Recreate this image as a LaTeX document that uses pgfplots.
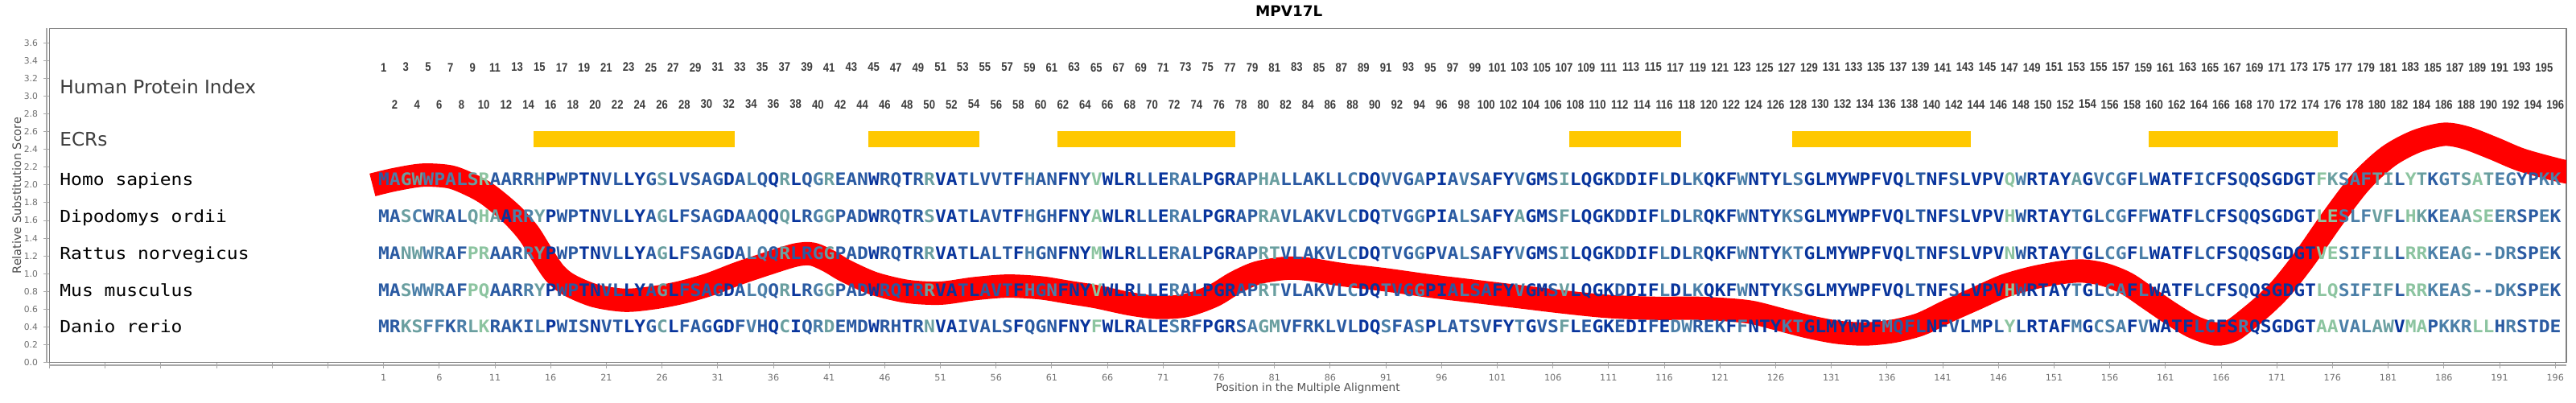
\documentclass[border=0pt]{standalone}
\usepackage{pgfplots}
\pgfplotsset{compat=1.18}
\usepackage{graphicx}
\usepackage{fontspec}
\setmainfont{DejaVu Sans}
\newfontfamily\monof{DejaVu Sans Mono}
\newfontfamily\idxf[FakeStretch=0.85]{Liberation Sans}
\definecolor{ca}{HTML}{08349C}
\definecolor{cb}{HTML}{2A5AA2}
\definecolor{cc}{HTML}{4B7FA8}
\definecolor{cd}{HTML}{6A9FA0}
\definecolor{ce}{HTML}{8CC4A0}
\definecolor{ecr}{HTML}{FFC800}
\definecolor{framec}{HTML}{808080}
\definecolor{axc}{HTML}{A8A8A8}
\definecolor{tlab}{HTML}{707070}
\definecolor{labc}{HTML}{505050}
\definecolor{idxc}{HTML}{3C3C3C}
\makeatletter
\def\walk#1#2\relax#3#4\relax{\textcolor{c#3}{#1}\ifx\relax#2\relax\expandafter\@gobble\else\expandafter\@firstofone\fi{\walk#2\relax#4\relax}}
\makeatother
\newcommand\seqline[2]{\scalebox{1}[0.93]{\monof\bfseries\fontsize{11.493}{12}\selectfont\walk#1\relax#2\relax}}
\newcommand\spname[1]{\scalebox{1}[0.9]{\monof\fontsize{11.493}{12}\selectfont #1}}
\begin{document}
\begin{tikzpicture}[idx/.style={font=\idxf\bfseries\fontsize{7.7}{8}\selectfont, text=idxc, inner sep=0pt, anchor=center},
  lab/.style={anchor=base west, inner sep=0pt}]
\begin{axis}[name=ax, at={(30.75pt,24.75pt)}, anchor=south west, scale only axis,
  width=1563.75pt, height=207.5pt,
  xmin=-29, xmax=197, ymin=0, ymax=3.762,
  axis line style={draw=framec, line width=0.65pt},
  tick pos=left, tick align=outside, major tick length=3.75pt,
  tick style={draw=axc, line width=0.5pt},
  xtick={1,6,...,196},
  extra x ticks={-29,-24,-19,-14,-9,-4}, extra x tick labels={},
  ytick={0,0.2,0.4,0.6,0.8,1.0,1.2,1.4,1.6,1.8,2.0,2.2,2.4,2.6,2.8,3.0,3.2,3.4,3.6},
  /pgf/number format/assume math mode=true,
  xticklabel style={font=\fontsize{5.6}{6}\selectfont, text=tlab},
  yticklabel style={font=\fontsize{5.4}{6}\selectfont, text=tlab, /pgf/number format/fixed, /pgf/number format/fixed zerofill, /pgf/number format/precision=1},
  xlabel={Position in the Multiple Alignment},
  xlabel style={font=\fontsize{6.8}{8}\selectfont, text=labc, at={(axis description cs:0.5,-0.0783)}, anchor=center},
  ylabel={Relative Substitution Score},
  ylabel style={font=\fontsize{7.2}{8}\selectfont, text=labc, at={(axis description cs:-0.01305,0.5)}, anchor=center},
]
% ECR bars
\addplot[fill=ecr, draw=none] coordinates {(14.5,2.422) (32.5,2.422) (32.5,2.604) (14.5,2.604)} -- cycle;
\addplot[fill=ecr, draw=none] coordinates {(44.5,2.422) (54.5,2.422) (54.5,2.604) (44.5,2.604)} -- cycle;
\addplot[fill=ecr, draw=none] coordinates {(61.5,2.422) (77.5,2.422) (77.5,2.604) (61.5,2.604)} -- cycle;
\addplot[fill=ecr, draw=none] coordinates {(107.5,2.422) (117.5,2.422) (117.5,2.604) (107.5,2.604)} -- cycle;
\addplot[fill=ecr, draw=none] coordinates {(127.5,2.422) (143.5,2.422) (143.5,2.604) (127.5,2.604)} -- cycle;
\addplot[fill=ecr, draw=none] coordinates {(159.5,2.422) (176.5,2.422) (176.5,2.604) (159.5,2.604)} -- cycle;
% substitution score curve
\addplot[color=red, line width=14.5pt, smooth] coordinates {
(0,2.00) (2,2.06) (4.5,2.11) (7,2.09) (9,1.99) (10.5,1.88) (12.5,1.67) (14,1.46) (15.2,1.22) (16.4,1.00)
(17.7,0.87) (20,0.75) (22.7,0.70) (25.3,0.73) (27.8,0.79) (30.3,0.88) (32.8,1.00) (35.4,1.11) (38,1.21) (39.5,1.22)
(41,1.14) (42.5,1.03) (45,0.89) (48,0.80) (51,0.78) (54,0.83) (57,0.86) (60,0.84) (62.5,0.79) (65,0.74)
(68,0.66) (70.5,0.62) (73,0.64) (75.5,0.75) (77.5,0.90) (79.5,1.01) (82,1.06) (84,1.05) (87,0.99) (91,0.93)
(95,0.86) (99,0.80) (103,0.74) (107,0.68) (111,0.63) (115,0.61) (119,0.61) (122,0.59) (124,0.56) (126.5,0.48)
(129,0.40) (131.5,0.34) (134,0.32) (136.5,0.35) (139,0.43) (141.5,0.58) (144,0.72) (146.5,0.86) (149,0.95) (151.5,1.01)
(153.5,1.03) (155.5,0.99) (157.5,0.89) (159.5,0.72) (161.5,0.55) (163.5,0.40) (165.5,0.32) (167,0.36) (168.5,0.50) (170,0.66)
(171.5,0.85) (173.5,1.17) (176,1.62) (178.5,2.03) (181,2.32) (183.5,2.49) (186,2.57) (188,2.53) (190.5,2.41) (193,2.28)
(196.5,2.16) (198,2.13)};
% row labels
\node[lab, text=idxc, font=\fontsize{11.6}{13}\selectfont] at (axis cs:-28.1,3.026) {Human Protein Index};
\node[lab, text=idxc, font=\fontsize{11.6}{13}\selectfont] at (axis cs:-28.1,2.437) {ECRs};
\node[lab] at (axis cs:-28.1,1.993) {\spname{Homo sapiens}};
\node[lab] at (axis cs:-28.1,1.576) {\spname{Dipodomys ordii}};
\node[lab] at (axis cs:-28.1,1.162) {\spname{Rattus norvegicus}};
\node[lab] at (axis cs:-28.1,0.743) {\spname{Mus musculus}};
\node[lab] at (axis cs:-28.1,0.331) {\spname{Danio rerio}};
% human protein index
\pgfplotsinvokeforeach{1,3,...,195}{\node[idx] at (axis cs:#1,3.325) {#1};}
\pgfplotsinvokeforeach{2,4,...,196}{\node[idx] at (axis cs:#1,2.908) {#1};}
% sequences
\node[lab] at (axis cs:0.5,1.993) {\seqline{MAGWWPALSR AARRHPWPTN VLLYGSLVSA GDALQQRLQG REANWRQTRR VATLVVTFHA NFNYVWLRLL ERALPGRAPH ALLAKLLCDQ VVGAPIAVSA FYVGMSILQG KDDIFLDLKQ KFWNTYLSGL MYWPFVQLTN FSLVPVQWRT AYAGVCGFLW ATFICFSQQS GDGTFKSAFT ILYTKGTSAT EGYPKK}{bcddccccde bbbbcabbaa bbaabdabbb babcbadabc dbbbabbabd aabbbbbacb baabeaaabb acbbaaabbd dbbbbbbcaa cbbcaabcbb aacaabdaaa abaaacabca aacaaabcaa aaaaaaabba abaaaaecaa aadacccaca aaabbaabaa aaaaedcccd dbedbccded ccbbcc}};
\node[lab] at (axis cs:0.5,1.576) {\seqline{MASCWRALQH AARRYPWPTN VLLYAGLFSA GDAAQQQLRG GPADWRQTRS VATLAVTFHG HFNYAWLRLL ERALPGRAPR AVLAKVLCDQ TVGGPIALSA FYAGMSFLQG KDDIFLDLRQ KFWNTYKSGL MYWPFVQLTN FSLVPVHWRT AYTGLCGFFW ATFLCFSQQS GDGTLESLFV FLHKKEAASE ERSPEK}{bbdcbcbbde daccdabbaa bbaabdabbb babcbadabc dbbbabbabd aababbaacb baaaeaaabb acbbaaabbd dbbbbbbcaa cbbcaabcbb aadaabdaaa abaaacabca aacaaaccaa aaaaaaabba abaaaaebaa aacabccaca aaabbaabaa aaaaeecccd dbedbccdee ccbbcb}};
\node[lab] at (axis cs:0.5,1.162) {\seqline{MANWWRAFPR AARRYPWPTN VLLYAGLFSA GDALQQRLRG GPADWRQTRR VATLALTFHG NFNYMWLRLL ERALPGRAPR TVLAKVLCDQ TVGGPVALSA FYVGMSILQG KDDIFLDLRQ KFWNTYKTGL MYWPFVQLTN FSLVPVNWRT AYTGLCGFLW ATFLCFSQQS GDGTVESIFI LLRRKEAG-- DRSPEK}{bbddccbbee bbbcdabbaa bbaabdabbb babccbdbbc dbbbabbabd aababbbacb baaaeaaabb acbbaaabbd dbbbbbbcaa cbbcabbcbb aacaabdaaa abaaacabca aacaaaccaa aaaaaaabba abaaaaebaa aacabccaca aaabbaabaa aaaaeecccd dbeecccdcc ccbbcb}};
\node[lab] at (axis cs:0.5,0.743) {\seqline{MASWWRAFPQ AARRYPWPTN VLLYAGLFSA GDALQQRLRG GPADWRQTRR VATLAVTFHG NFNYVWLRLL ERALPGRAPR TVLAKVLCDQ TVGGPIALSA FYVGMSVLQG KDDIFLDLKQ KFWNTYKSGL MYWPFVQLTN FSLVPVHWRT AYTGLCAFLW ATFLCFSQQS GDGTLQSIFI FLRRKEAS-- DKSPEK}{bbdcccbbee bbbcdabbaa bbaabdabbb babccbdabc dbbbabbabd aababbbacb caaaeaaabb acbbaaabbd dbbbbbbcaa cbbcaabcbb aacaabdaaa abaaacabca aacaaaccaa aaaaaaabba abaaaaebaa aacabccaca aaabbaabaa aaaaeecccd dbeecccdcc ccbbcb}};
\node[lab] at (axis cs:0.5,0.331) {\seqline{MRKSFFKRLK RAKILPWISN VTLYGCLFAG GDFVHQCIQR DEMDWRHTRN VAIVALSFQG NFNYFWLRAL ESRFPGRSAG MVFRKLVLDQ SFASPLATSV FYTGVSFLEG KEDIFEDWRE KFFNTYKTGL MYWPFMQFLN FVLMPLYLRT AFMGCSAFVW ATFLCFSRQS GDGTAAVALA WVMAPKKRLL HRSTDE}{bbddccbcde bbbbcabbba bbaabdabbb aabcbadabc dbbbabbabd aabbbbbabb baaaeaaabb acbbaaabcd dbbbbbbbaa cbbcabbbbb aacabbdaba abaabaccbb bacaaaccaa aaaaacbbba abababebaa aacacccaca aaabbaacaa aaaaeecccd daeebcccee bcbbbb}};
\end{axis}
\draw[axc, line width=0.6pt] ([yshift=-1.75pt]ax.south west) -- ([yshift=-1.75pt]ax.south east);
\draw[axc, line width=0.6pt] ([xshift=-1.75pt]ax.south west) -- ([xshift=-1.75pt]ax.north west);
\node[font=\bfseries\fontsize{9.2}{11}\selectfont, anchor=base, inner sep=0pt] at (800.85pt,239.65pt) {MPV17L};
\pgfresetboundingbox
\path (0,0) rectangle (1600.5pt,250pt);
\end{tikzpicture}
\end{document}
